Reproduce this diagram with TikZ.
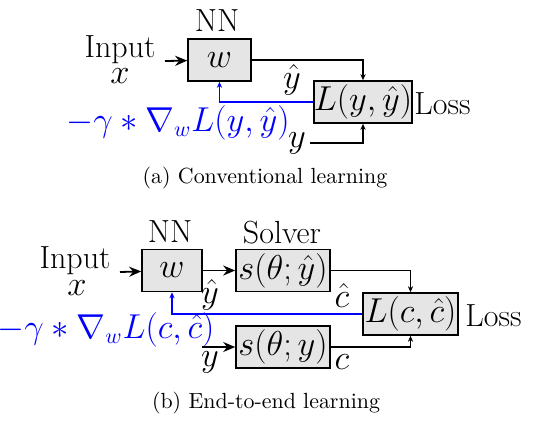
\documentclass[tikz,border=0pt]{standalone}
\usetikzlibrary{arrows.meta}
\begin{document}
\begin{tikzpicture}[
	x=0.5pt, y=-0.5pt,
	box/.style = {rectangle, draw=black, fill=gray!20, thick, inner sep=0pt, minimum height=21pt, font=\fontsize{16}{19}\selectfont},
	lbl/.style = {inner sep=0pt, font=\fontsize{16}{19}\selectfont},
	grad/.style = {inner sep=0pt, font=\fontsize{16}{19}\selectfont, text=blue},
	subcap/.style = {inner sep=0pt, font=\fontsize{10.95}{13}\selectfont},
	feed/.style = {-{Stealth[length=6pt,width=5pt]}, line width=0.9pt},
	r/.style = {-{Stealth[length=3pt,width=2.6pt]}, semithick},
	back/.style = {r, blue}
	]
	\useasboundingbox (0,0) rectangle (541,420);
	
	%Nodes (a)
	\node[lbl]					(nna)	at (217,21)		{NN};
	\node[lbl, anchor=base]		(inpa)	at (120,57)		{Input};
	\node[lbl, anchor=base]		(xa)	at (120,83)		{$x$};
	\coordinate					(sa)	at (165,61);
	\node[box, minimum width=31.5pt]	(wa)	at (219.5,60)	{$w$};
	\node[box, minimum width=49pt]		(lossa)	at (363,102)	{$L(y,\hat{y})$};
	\node[lbl, anchor=west]		(lla)	at (414,104)	{Loss};
	\node[lbl]					(yha)	at (292,80)		{$\hat{y}$};
	\node[lbl, inner sep=2pt]	(ya)	at (297,143)	{$y$};
	\node[grad]					(ga)	at (178,123)	{$-\gamma*\nabla_wL(y,\hat{y})$};
	\node[subcap]				(capa)	at (265,178)	{(a) Conventional learning};
	
	%Lines (a)
	\draw[feed]	(sa)	--	(wa);
	\draw[r]	(wa)	-|	(lossa);
	\draw[back]	(lossa)	-|	(wa);
	\draw[r]	(ya)	-|	(lossa);
	
	%Nodes (b)
	\node[lbl]					(nnb)	at (170,232)	{NN};
	\node[lbl]					(solv)	at (282,233)	{Solver};
	\node[lbl, anchor=base]		(inpb)	at (75,268)		{Input};
	\node[lbl, anchor=base]		(xb)	at (77,295)		{$x$};
	\coordinate					(sb)	at (120,272);
	\node[box, minimum width=30pt]		(wb)	at (172,270.5)	{$w$};
	\node[box, minimum width=47pt]		(sh)	at (283,270.5)	{$s(\theta;\hat{y})$};
	\node[box, minimum width=47pt]		(sy)	at (283,347)	{$s(\theta;y)$};
	\node[box, minimum width=47.5pt]	(lossb)	at (410.5,314)	{$L(c,\hat{c})$};
	\node[lbl, anchor=west]		(llb)	at (465,316)	{Loss};
	\node[lbl]					(yhb)	at (210,295)	{$\hat{y}$};
	\node[lbl]					(chb)	at (342,295)	{$\hat{c}$};
	\coordinate					(yb)	at (202,347);
	\node[lbl]					(ylb)	at (210,362)	{$y$};
	\node[lbl]					(cb)	at (342,362)	{$c$};
	\node[grad]					(gb)	at (106,330)	{$-\gamma*\nabla_wL(c,\hat{c})$};
	\node[subcap]				(capb)	at (266,403)	{(b) End-to-end learning};
	
	%Lines (b)
	\draw[feed]	(sb)	--	(wb);
	\draw[feed]	(wb)	--	(sh);
	\draw[r]	(sh)	-|	(lossb);
	\draw[back]	(lossb)	-|	(wb);
	\draw[feed]	(yb)	--	(sy);
	\draw[r]	(sy)	-|	(lossb);
\end{tikzpicture}
\end{document}
